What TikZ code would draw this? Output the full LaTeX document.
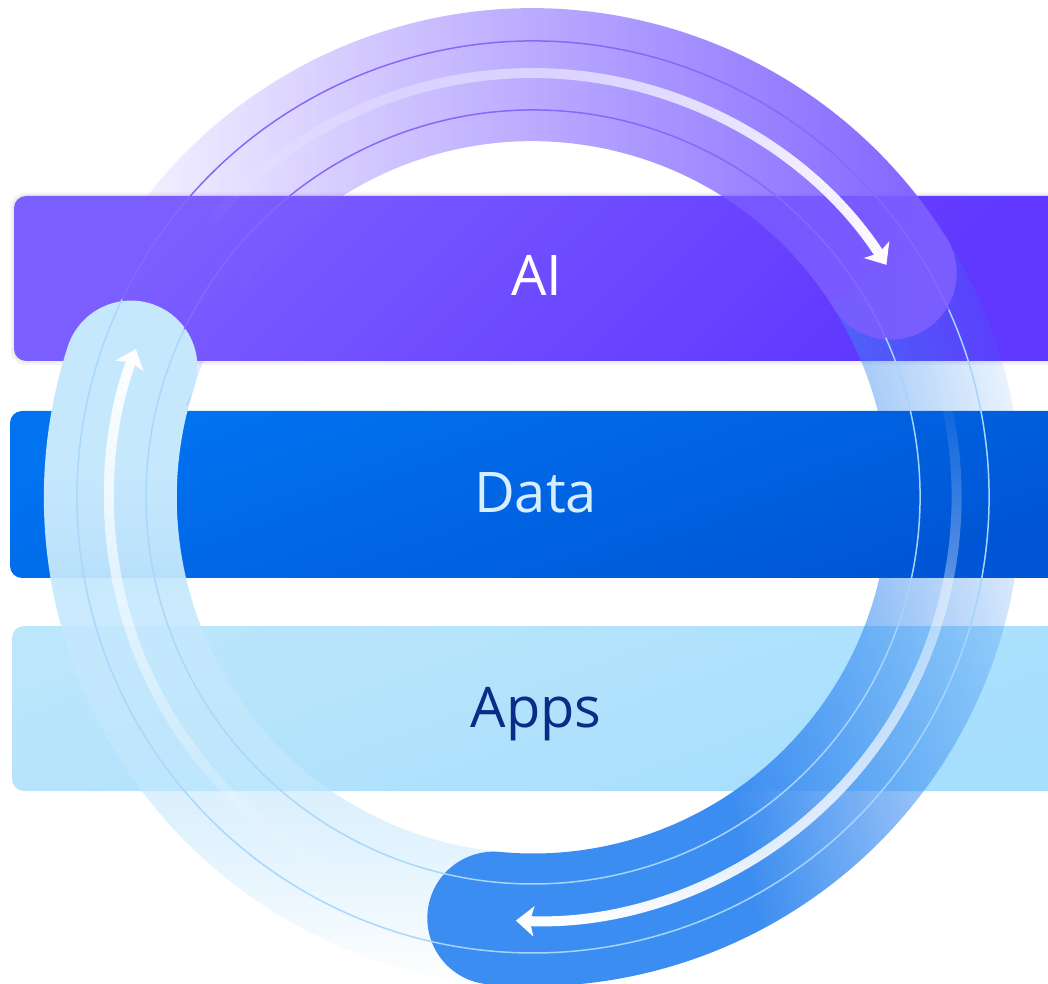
\documentclass[tikz,border=0pt]{standalone}
\usepackage{fontspec}
\setmainfont{Open Sans}
\usetikzlibrary{arrows.meta,fadings}
\definecolor{aitop}{HTML}{7C5FFF}
\definecolor{aibot}{HTML}{5F37FF}
\definecolor{datatop}{HTML}{0173F1}
\definecolor{databot}{HTML}{0056D5}
\definecolor{appstop}{HTML}{BBE6FC}
\definecolor{appsbot}{HTML}{A6DEFD}
\definecolor{purpband}{HTML}{7C5EFF}
\definecolor{blueband}{HTML}{3C8DF1}
\definecolor{lbband}{HTML}{C5E8FD}
\definecolor{purpline}{HTML}{8768FA}
\definecolor{blueline}{HTML}{A6D4FD}
\definecolor{lbline}{HTML}{A9D8FA}
\definecolor{datatext}{HTML}{D6EEFF}
\definecolor{appstext}{HTML}{0A2C87}

% fadings: white = opaque, black = transparent; path bbox <-> 25bp..75bp
\pgfdeclarehorizontalshading{shLR}{100bp}{color(0bp)=(black); color(25bp)=(black); color(75bp)=(white); color(100bp)=(white)}
\pgfdeclarefading{fadeLR}{\pgfuseshading{shLR}}
\pgfdeclareverticalshading{shBT}{100bp}{color(0bp)=(black); color(25bp)=(black); color(75bp)=(white); color(100bp)=(white)}
\pgfdeclarefading{fadeBT}{\pgfuseshading{shBT}}
\pgfdeclareverticalshading{shTB}{100bp}{color(0bp)=(white); color(25bp)=(white); color(75bp)=(black); color(100bp)=(black)}
\pgfdeclarefading{fadeTB}{\pgfuseshading{shTB}}
\pgfdeclareverticalshading{shLB}{100bp}{color(0bp)=(black); color(25bp)=(black); color(27.5bp)=(white!12!black); color(31.25bp)=(white!32!black); color(37bp)=(white!56!black); color(50bp)=(white!86!black); color(56bp)=(white!96!black); color(62bp)=(white); color(100bp)=(white)}
\pgfdeclarefading{fadeLB}{\pgfuseshading{shLB}}
\pgfdeclarehorizontalshading{shBL}{100bp}{color(0bp)=(white); color(25bp)=(white); color(45bp)=(white); color(75bp)=(black); color(100bp)=(black)}
\pgfdeclarefading{fadeBL}{\pgfuseshading{shBL}}

\tikzset{
  bar/.style={rectangle, rounded corners=12pt, inner sep=0pt, draw=none},
  barshadow/.style={fill=black, opacity=0.035, rounded corners=14pt},
  lbl/.style={inner sep=0pt, anchor=base, font=\fontsize{56}{60}\selectfont},
  thinring/.style={line width=1.5pt},
  whitearrow/.style={white, line width=10pt, -{Stealth[length=18pt,width=30pt,inset=4pt]}},
}

\begin{document}
\begin{tikzpicture}[x=1pt,y=1pt]
\useasboundingbox (0,0) rectangle (1048,983);
\fill[white] (0,0) rectangle (1048,983);

% soft shadow of the AI bar
\fill[barshadow] (10.5,618) rectangle (1063,790.5);
\fill[barshadow] (12,619.5) rectangle (1062,789);

% bars
\node[bar, minimum width=1046pt, minimum height=165pt, top color=aitop, bottom color=aibot, shading angle=45] (aibar) at (537,704.5) {};
\node[bar, minimum width=1051pt, minimum height=167pt, top color=datatop, bottom color=databot, shading angle=20] (databar) at (535.5,488.5) {};
\node[bar, minimum width=1048pt, minimum height=165pt, top color=appstop, bottom color=appsbot, shading angle=20] (appsbar) at (536,274.5) {};

% labels
\node[lbl, text=white] (tai) at (537,687) {AI};
\node[lbl, text=datatext] (tdata) at (535.5,470) {Data};
\node[lbl, text=appstext] (tapps) at (536,256) {Apps};

\begin{scope}[shift={(533,486)}]
  % bands
  \fill[lbband, path fading=fadeLB] (268:489pt) arc[start angle=268,end angle=162,radius=489pt]
     arc[start angle=162,end angle=-18,radius=66.5pt] arc[start angle=162,end angle=268,radius=356pt] -- cycle;
  \begin{scope}[even odd rule]
    \clip (-600,-600) rectangle (600,600) (-530,-81) rectangle (600,86);
    \fill[blueband, path fading=fadeBL, fading angle=14] (33:489pt) arc[start angle=33,end angle=-95.3,radius=489pt]
       arc[start angle=-95.3,end angle=-275.3,radius=66.5pt] arc[start angle=-95.3,end angle=33,radius=356pt] -- cycle;
  \end{scope}
  \begin{scope}[even odd rule]
    \clip (-600,-600) rectangle (600,600) (162:422.5pt) circle[radius=66.5pt];
    \fill[purpband, path fading=fadeLR] (165:489pt) arc[start angle=165,end angle=32,radius=489pt]
       arc[start angle=32,end angle=-148,radius=66.5pt] arc[start angle=32,end angle=165,radius=356pt] -- cycle;
  \end{scope}
  % thin rings
  \draw[thinring, lbline] (257:456pt) arc[start angle=257,end angle=154.3,radius=456pt];
  \draw[thinring, lbline] (257:387pt) arc[start angle=257,end angle=154.3,radius=387pt];
  \draw[thinring, blueline] (24.3:456pt) arc[start angle=24.3,end angle=-103,radius=456pt];
  \draw[thinring, blueline] (24.3:387pt) arc[start angle=24.3,end angle=-103,radius=387pt];
  \draw[thinring, purpline] (154.3:456pt) arc[start angle=154.3,end angle=24.3,radius=456pt];
  \draw[thinring, purpline] (154.3:387pt) arc[start angle=154.3,end angle=24.3,radius=387pt];
  % white arrows
  \draw[whitearrow, path fading=fadeBT] (250:424pt) arc[start angle=250,end angle=159.5,radius=424pt];
  \draw[whitearrow, path fading=fadeTB] (15:424pt) arc[start angle=15,end angle=-92.3,radius=424pt];
  \draw[whitearrow, path fading=fadeLR] (140:424pt) arc[start angle=140,end angle=33.2,radius=424pt];
\end{scope}
\end{tikzpicture}
\end{document}
